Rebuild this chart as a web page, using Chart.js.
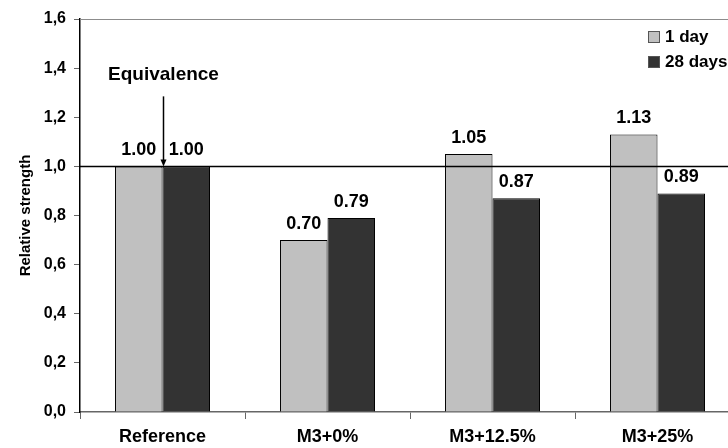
<!DOCTYPE html>
<html>
<head>
<meta charset="utf-8">
<script src="https://cdn.jsdelivr.net/npm/chart.js@4/dist/chart.umd.min.js"></script>
<style>
  html, body { margin: 0; padding: 0; background: #fff; }
  #wrap { width: 728px; height: 448px; overflow: hidden; }
  canvas { display: block; }
</style>
</head>
<body>
<div id="wrap"><canvas id="strength" width="780" height="448"></canvas></div>
<script>
var categories = ['Reference', 'M3+0%', 'M3+12.5%', 'M3+25%'];
var oneDay = [1.00, 0.70, 1.05, 1.13];
var twentyEightDays = [1.00, 0.79, 0.87, 0.89];
var seriesNames = ['1 day', '28 days'];
var equivalenceLevel = 1.0;

var FONT = '"Liberation Sans", Arial, sans-serif';
Chart.defaults.font.family = FONT;
Chart.defaults.color = '#000';

// reference line at 1.0, the "Equivalence" arrow, value labels and legend
var overlay = {
  id: 'overlay',
  afterDatasetsDraw: function(chart) {
    var ctx = chart.ctx;
    var area = chart.chartArea;
    var x = chart.scales.x, y = chart.scales.y;

    ctx.save();
    // plot top border
    ctx.strokeStyle = '#8c8c8c';
    ctx.lineWidth = 1;
    ctx.beginPath();
    ctx.moveTo(area.left, area.top + 0.5);
    ctx.lineTo(area.right, area.top + 0.5);
    ctx.stroke();

    // equivalence line
    var yEq = y.getPixelForValue(equivalenceLevel);
    ctx.strokeStyle = '#000';
    ctx.lineWidth = 1.5;
    ctx.beginPath();
    ctx.moveTo(area.left, yEq);
    ctx.lineTo(area.right, yEq);
    ctx.stroke();

    // arrow down onto the reference group
    var ax = Math.round(x.getPixelForValue(0)) + 0.5;
    var aTop = y.getPixelForValue(1.285);
    ctx.lineWidth = 1.5;
    ctx.beginPath();
    ctx.moveTo(ax, aTop);
    ctx.lineTo(ax, yEq - 5);
    ctx.stroke();
    ctx.fillStyle = '#000';
    ctx.beginPath();
    ctx.moveTo(ax, yEq);
    ctx.lineTo(ax - 3, yEq - 7);
    ctx.lineTo(ax + 3, yEq - 7);
    ctx.closePath();
    ctx.fill();

    ctx.font = 'bold 19px ' + FONT;
    ctx.textAlign = 'center';
    ctx.textBaseline = 'middle';
    ctx.fillText('Equivalence', ax, y.getPixelForValue(1.373));

    // value labels
    ctx.font = 'bold 18px ' + FONT;
    chart.data.datasets.forEach(function(ds, di) {
      chart.getDatasetMeta(di).data.forEach(function(bar, i) {
        ctx.fillText(ds.data[i].toFixed(2), bar.x, bar.y - 16);
      });
    });

    // legend
    ctx.font = 'bold 17px ' + FONT;
    ctx.textAlign = 'left';
    chart.data.datasets.forEach(function(ds, di) {
      var ly = 37 + di * 25;
      ctx.fillStyle = ds.backgroundColor;
      ctx.fillRect(648.5, ly - 5.5, 11, 11);
      ctx.strokeStyle = '#555';
      ctx.lineWidth = 1;
      ctx.strokeRect(648.5, ly - 5.5, 11, 11);
      ctx.fillStyle = '#000';
      ctx.fillText(ds.label, 665, ly);
    });
    ctx.restore();
  }
};

new Chart(document.getElementById('strength'), {
  type: 'bar',
  data: {
    labels: categories,
    datasets: [{
      label: seriesNames[0],
      data: oneDay,
      backgroundColor: '#c0c0c0',
      borderColor: '#000',
      borderWidth: 1
    }, {
      label: seriesNames[1],
      data: twentyEightDays,
      backgroundColor: '#333333',
      borderColor: '#000',
      borderWidth: 1
    }]
  },
  options: {
    responsive: false,
    animation: false,
    layout: { padding: { top: 19, right: 40, bottom: 0, left: 0 } },
    categoryPercentage: 0.576,
    barPercentage: 1.0,
    plugins: {
      legend: { display: false },
      tooltip: { enabled: false }
    },
    scales: {
      x: {
        afterFit: function(scale) { scale.height = 36; },
        border: { color: '#666', width: 1.5 },
        grid: { drawOnChartArea: false, tickLength: 7, color: '#666' },
        ticks: { padding: 7, font: { size: 18, weight: 'bold' }, color: '#000' }
      },
      y: {
        min: 0,
        max: 1.6,
        afterFit: function(scale) { scale.width = 80; },
        border: { color: '#000', width: 1.5 },
        grid: { drawOnChartArea: false, tickLength: 6, color: '#666' },
        ticks: {
          stepSize: 0.2,
          padding: 8,
          font: { size: 16, weight: 'bold' },
          color: '#000',
          callback: function(v) { return v.toFixed(1).replace('.', ','); }
        },
        title: {
          display: true,
          text: 'Relative strength',
          font: { size: 15, weight: 'bold' },
          color: '#000',
          padding: { top: 17, bottom: 0 }
        }
      }
    }
  },
  plugins: [overlay]
});
</script>
</body>
</html>
